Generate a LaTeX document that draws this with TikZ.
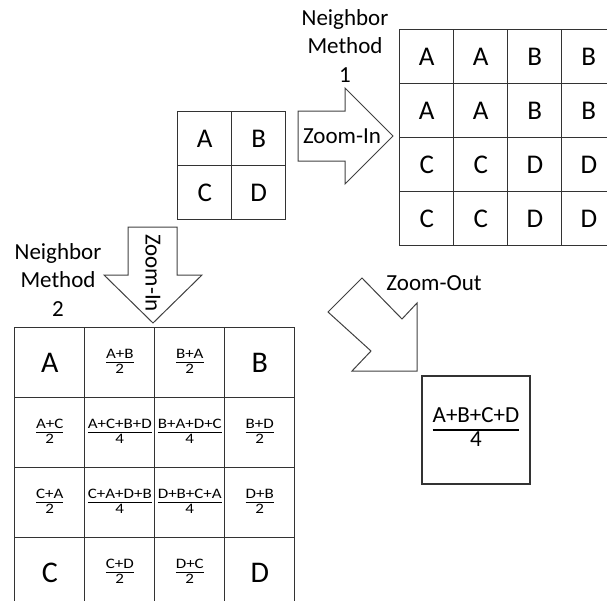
\documentclass[tikz,border=0pt]{standalone}
\usepackage{fontspec}
\setmainfont{Carlito}
\usepackage{graphicx}
\usepackage{tikz}
\usetikzlibrary{matrix,positioning}
\setlength{\arrayrulewidth}{1.4pt}
\tikzset{cell/.style={draw=black!80,line width=1.2pt,minimum width=#1,minimum height=#1,inner sep=0pt,anchor=center}}
\tikzset{grid/.style={matrix of nodes,inner sep=0pt,column sep=-1.2pt,row sep=-1.2pt,nodes={cell=#1}}}
\tikzset{blockarrow/.style={draw=black!75,line width=1pt,line join=miter}}
\tikzset{tag/.style={inner sep=0pt,font=\fontsize{23}{28.5}\selectfont}}
\def\lettersize{\fontsize{27}{30}\selectfont}
\def\Lettersize{\fontsize{30}{33}\selectfont}
\newcommand{\tinyfrac}[2]{\scalebox{1}[0.85]{\fontsize{17}{17}\selectfont\setlength{\arrayrulewidth}{2pt}\begin{tabular}{@{}c@{}}#1\\[-1pt]\hline #2\end{tabular}}}
\newcommand{\wholefrac}[2]{\raisebox{-5pt}{\fontsize{23}{23}\selectfont\begin{tabular}{@{}c@{}}#1\\\hline #2\end{tabular}}}
\def\hfr#1{\tinyfrac{#1}{2}}
\def\qfr#1{\tinyfrac{#1}{4}}

\begin{document}
\begin{tikzpicture}[x=1pt,y=-1pt]
  \useasboundingbox (0,0) rectangle (607,600);
  \clip (0,0) rectangle (607,600);
  % the grids
  \matrix (src) [grid=54pt,anchor=north west,nodes={font=\lettersize}] at (177,111) {
    A & B\\
    C & D\\};
  \matrix (near) [grid=54pt,anchor=north west,nodes={font=\lettersize}] at (399,29) {
    A & A & B & B\\
    A & A & B & B\\
    C & C & D & D\\
    C & C & D & D\\};
  \matrix (lin) [grid=70pt,anchor=north west,nodes={font=\Lettersize}] at (14,327) {
    A & \hfr{A+B} & \hfr{B+A} & B\\
    \hfr{A+C} & \qfr{A+C+B+D} & \qfr{B+A+D+C} & \hfr{B+D}\\
    \hfr{C+A} & \qfr{C+A+D+B} & \qfr{D+B+C+A} & \hfr{D+B}\\
    C & \hfr{C+D} & \hfr{D+C} & D\\};
  \node (res) [cell=108pt] at (476,430) {\wholefrac{A+B+C+D}{4}};
  % block arrows
  \draw[blockarrow] (298,111) -- (345,111) -- (345,88) -- (393,136) -- (345,184) -- (345,161) -- (298,161) -- cycle;
  \draw[blockarrow] (128,227) -- (177,227) -- (177,275) -- (202,275) -- (153,323) -- (104,275) -- (128,275) -- cycle;
  \draw[blockarrow] (417,371) -- (417,303) -- (402,319) -- (362,278) -- (328,312) -- (371,351) -- (352,371) -- cycle;
  % texts
  \node (zin) [tag] at (342,136) {Zoom-In};
  \node (zdown) [tag,rotate=-90] at (153,273) {Zoom-In};
  \node (zout) [tag] at (434,283) {Zoom-Out};
  \node (nm1) [tag,align=center] at (345,46) {Neighbor\\Method\\1};
  \node (nm2) [tag,align=center] at (58,280) {Neighbor\\Method\\2};
\end{tikzpicture}
\end{document}
